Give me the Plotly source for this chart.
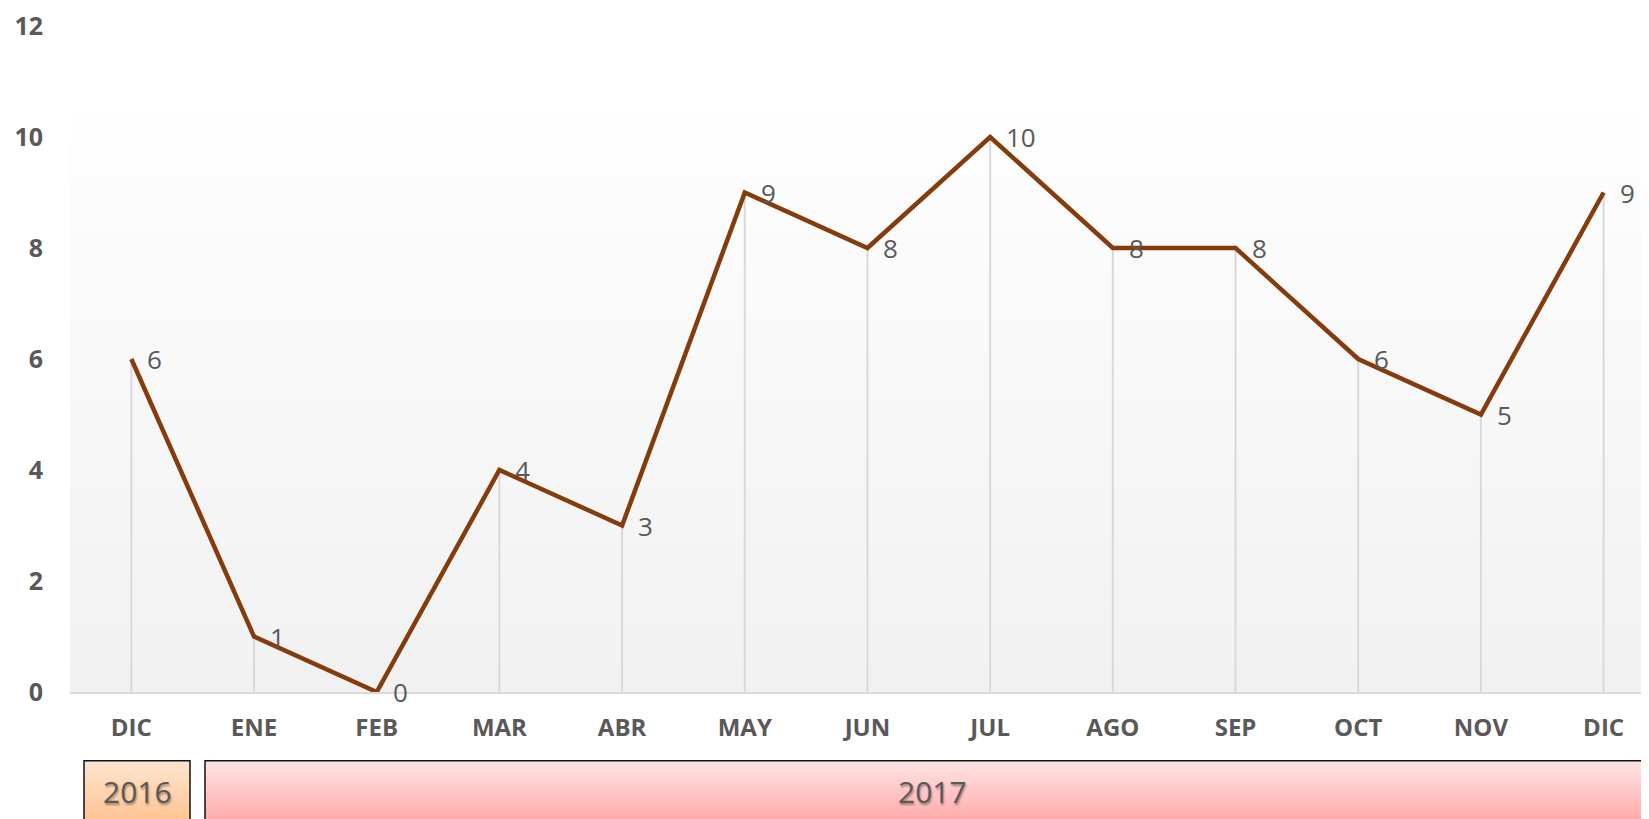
import plotly.graph_objects as go

months = ["DIC", "ENE", "FEB", "MAR", "ABR", "MAY", "JUN", "JUL", "AGO", "SEP", "OCT", "NOV", "DIC"]
values = [6, 1, 0, 4, 3, 9, 8, 10, 8, 8, 6, 5, 9]
years = ["2016", "2017"]

OFF = 8  # page body margin
W, H = 1649 - OFF, 819 - OFF
# window-pixel plot area: left 70, bottom 692, top 23.6
L = 70 - OFF
R = 0
T = 23.6 - OFF
B = 819 - 692
plot_w = W - L - R
plot_h = H - T - B

def px_x(p):
    return (p - OFF - L) / plot_w

def px_y(p):
    return (H - B - (p - OFF)) / plot_h

xi = list(range(len(values)))

# drop lines from each point to the axis
drop_x, drop_y = [], []
for i, v in zip(xi, values):
    drop_x += [i, i, None]
    drop_y += [0, v, None]

fig = go.Figure()
fig.add_trace(go.Scatter(x=drop_x, y=drop_y, mode="lines",
                         line=dict(color="#d9d9d9", width=2), hoverinfo="skip",
                         showlegend=False))
fig.add_trace(go.Scatter(x=xi, y=values, mode="lines",
                         line=dict(color="#843C0C", width=4.5),
                         showlegend=False))

for i, v in zip(xi, values):
    fig.add_annotation(x=i, y=v, text=str(v), showarrow=False,
                       xanchor="left", yanchor="middle", xshift=14,
                       font=dict(family="Open Sans", size=26, color="#595959"))

shapes = []

def hexc(h):
    h = h.lstrip("#")
    return tuple(int(h[k:k + 2], 16) for k in (0, 2, 4))

def gradient(x0, x1, y0, y1, top, bottom, n=40):
    c0, c1 = hexc(top), hexc(bottom)
    for k in range(n):
        t = k / (n - 1)
        c = tuple(round(c0[j] + (c1[j] - c0[j]) * t) for j in range(3))
        ya = y0 + (y1 - y0) * k / n
        yb = y0 + (y1 - y0) * (k + 1) / n + 0.5
        shapes.append(dict(type="rect", xref="paper", yref="paper",
                           x0=px_x(x0), x1=px_x(x1), y0=px_y(ya), y1=px_y(yb),
                           fillcolor="rgb(%d,%d,%d)" % c, line=dict(width=0),
                           layer="below"))

# plot area background gradient
gradient(70, 1660, 112, 692, "#fefefe", "#f1f1f1", n=60)

# year boxes
gradient(84, 190, 761, 830, "#fde4cf", "#ffbf88", n=25)
gradient(205, 1670, 761, 830, "#ffe3e3", "#ffa2a2", n=25)
for x0, x1 in [(84, 190), (205, 1670)]:
    shapes.append(dict(type="rect", xref="paper", yref="paper",
                       x0=px_x(x0), x1=px_x(x1), y0=px_y(761), y1=px_y(830),
                       fillcolor="rgba(0,0,0,0)", line=dict(color="#111111", width=1.5),
                       layer="above"))

for label, cx in zip(years, [137, 933]):
    fig.add_annotation(xref="paper", yref="paper", x=px_x(cx), y=px_y(792),
                       text=label, showarrow=False, xanchor="center", yanchor="middle",
                       font=dict(family="Open Sans", size=30, color="#595959",
                                 shadow="1px 2px 2px rgba(0,0,0,0.35)"))

fig.update_layout(
    width=W, height=H,
    margin=dict(l=L, r=R, t=T, b=B, pad=0),
    paper_bgcolor="white", plot_bgcolor="rgba(0,0,0,0)",
    shapes=shapes,
    xaxis=dict(range=[-0.5, 12.37], tickmode="array", tickvals=xi, ticktext=months,
               showgrid=False, zeroline=False, showline=True, linecolor="#d9d9d9",
               linewidth=1.5, ticks="", ticklabelstandoff=13,
               tickfont=dict(family="Open Sans", size=24, color="#595959", weight="bold")),
    yaxis=dict(range=[0, 12], tickvals=[0, 2, 4, 6, 8, 10, 12],
               showgrid=False, zeroline=False, showline=False, ticks="",
               ticklabelstandoff=26, ticklabeloverflow="allow",
               tickfont=dict(family="Open Sans", size=25, color="#595959", weight="bold")),
)

fig.write_html("out.html")
